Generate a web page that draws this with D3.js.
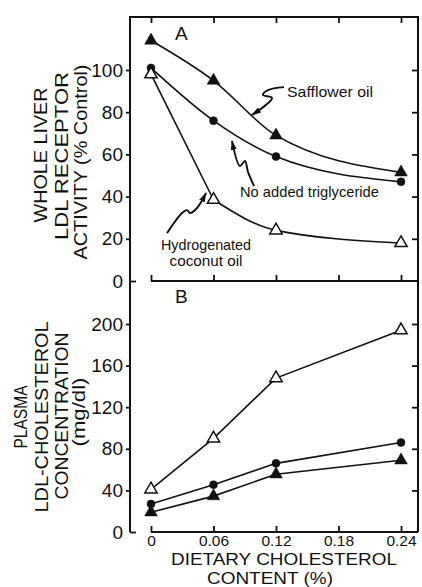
<!DOCTYPE html>
<html>
<head>
<meta charset="utf-8">
<script src="https://cdn.jsdelivr.net/npm/d3@7"></script>
<style>
  body { margin: 0; background: #fff; }
  text { font-family: "Liberation Sans", Arial, sans-serif; fill: #111; }
</style>
</head>
<body>
<div id="chart"></div>
<script>
// dietary cholesterol content (%)
var cholesterol = [0, 0.06, 0.12, 0.24]
var xTicks = [0, 0.06, 0.12, 0.18, 0.24]
var xTickLabels = ['0', '0.06', '0.12', '0.18', '0.24']

// panel A: whole liver LDL receptor activity (% control)
var ticksA = [0, 20, 40, 60, 80, 100]
var receptorSafflower = [114, 95, 69, 51.5]
var receptorNoAdded = [101, 76, 59, 47]
var receptorCoconut = [98, 38.5, 24, 18]

// panel B: plasma LDL-cholesterol (mg/dl)
var ticksB = [0, 40, 80, 120, 160, 200]
var ldlCoconut = [41, 90, 148, 194]
var ldlNoAdded = [27, 45.5, 66, 86]
var ldlSafflower = [19, 34.5, 55.5, 69]

// squiggly arrows of panel A, in data units [x, y], tail first
var arrowSafflower = [[0.1277, 91.9], [0.1123, 90.5], [0.1075, 88.2], [0.1162, 86.7], [0.0970, 78.7]]
var arrowNoAdded = [[0.0989, 45.0], [0.0931, 51.7], [0.0902, 56.9], [0.0854, 54.5], [0.0778, 66.4]]
var arrowCoconut = [[0.0154, 22.7], [0.0298, 32.2], [0.0346, 33.6], [0.0374, 32.2], [0.0442, 34.6], [0.0528, 41.7]]

var W = 422, H = 587
var frame = {left: 130, right: 418, top: 17, mid: 281, bottom: 532}
var ink = '#111'

var svg = d3.select('#chart').append('svg')
  .attr('width', W)
  .attr('height', H)
  .style('background-color', '#fff')

var x = d3.scaleLinear().domain([0, 0.24]).range([151, 401])
var yA = d3.scaleLinear().domain([0, 100]).range([frame.mid, 70])
var yB = d3.scaleLinear().domain([0, 200]).range([frame.bottom, 324])

svg.append('defs').append('marker')
  .attr('id', 'head')
  .attr('viewBox', '0 0 10 6')
  .attr('refX', 9)
  .attr('refY', 3)
  .attr('markerWidth', 10)
  .attr('markerHeight', 6)
  .attr('markerUnits', 'userSpaceOnUse')
  .attr('orient', 'auto')
  .append('path')
  .attr('d', 'M0,0L10,3L0,6Z')
  .attr('fill', ink)

function styleAxis(g, size){
  g.select('.domain').remove()
  g.selectAll('line').attr('stroke', ink).attr('stroke-width', 1.8)
  g.selectAll('text').style('font-size', size + 'px').attr('fill', ink)
}

// frame
svg.append('path')
  .attr('d', 'M' + frame.left + ',' + frame.bottom + 'V' + frame.top + 'H' + frame.right + 'V' + frame.bottom)
  .attr('fill', 'none').attr('stroke', ink).attr('stroke-width', 2)
;[frame.mid, frame.bottom].forEach(function(yy){
  svg.append('line')
    .attr('x1', x(0)).attr('x2', frame.right)
    .attr('y1', yy).attr('y2', yy)
    .attr('stroke', ink).attr('stroke-width', 2)
})

// left axes
;[[yA, ticksA], [yB, ticksB]].forEach(function(p){
  var g = svg.append('g')
    .attr('transform', 'translate(' + frame.left + ',0)')
    .call(d3.axisLeft(p[0]).tickValues(p[1]).tickSize(4).tickPadding(3))
  styleAxis(g, 19)
  g.selectAll('.tick').filter(function(d){ return d === 0 }).select('line').attr('x2', 6)
  // right side, inward ticks
  var r = svg.append('g')
    .attr('transform', 'translate(' + frame.right + ',0)')
    .call(d3.axisLeft(p[0]).tickValues(p[1].filter(function(d){ return d !== 0 })).tickSize(6).tickFormat(''))
  styleAxis(r, 19)
})

// top and middle x ticks
var topAxis = svg.append('g').attr('transform', 'translate(0,' + frame.top + ')')
  .call(d3.axisBottom(x).tickValues(xTicks).tickSize(6).tickFormat(''))
styleAxis(topAxis, 16)
var midAxis = svg.append('g').attr('transform', 'translate(0,' + frame.mid + ')')
  .call(d3.axisTop(x).tickValues(xTicks).tickSize(6).tickFormat(''))
styleAxis(midAxis, 16)
var bottomAxis = svg.append('g').attr('transform', 'translate(0,' + frame.bottom + ')')
  .call(d3.axisBottom(x).tickValues(xTicks).tickSize(-6).tickPadding(3)
    .tickFormat(function(d, i){ return xTickLabels[i] }))
styleAxis(bottomAxis, 15.5)

// series
var filledTri = {d: d3.symbol(d3.symbolTriangle, 70)(), fill: ink, sw: 0.5}
var dot = {d: d3.symbol(d3.symbolCircle, 50)(), fill: ink, sw: 0.5}
var openTri = {d: d3.symbol(d3.symbolTriangle, 66)(), fill: '#fff', sw: 1.5}

// "split" draws the first segment straight, then a smooth curve
var series = [
  {vals: receptorSafflower, y: yA, curve: d3.curveMonotoneX, mark: filledTri},
  {vals: receptorNoAdded, y: yA, curve: d3.curveMonotoneX, mark: dot},
  {vals: receptorCoconut, y: yA, curve: d3.curveMonotoneX, mark: openTri, split: true},
  {vals: ldlCoconut, y: yB, curve: d3.curveLinear, mark: openTri},
  {vals: ldlNoAdded, y: yB, curve: d3.curveLinear, mark: dot},
  {vals: ldlSafflower, y: yB, curve: d3.curveLinear, mark: filledTri}
]

series.forEach(function(s){
  var pts = cholesterol.map(function(c, i){ return [x(c), s.y(s.vals[i])] })
  var parts = s.split ? [[pts.slice(0, 2), d3.curveLinear], [pts.slice(1), s.curve]] : [[pts, s.curve]]
  parts.forEach(function(p){
    svg.append('path')
      .attr('d', d3.line().curve(p[1])(p[0]))
      .attr('fill', 'none').attr('stroke', ink).attr('stroke-width', 1.6)
  })
})
series.forEach(function(s){
  svg.append('g').selectAll('path')
    .data(cholesterol.map(function(c, i){ return [x(c), s.y(s.vals[i])] }))
    .enter().append('path')
    .attr('transform', function(d){ return 'translate(' + d[0] + ',' + d[1] + ')' })
    .attr('d', s.mark.d)
    .attr('fill', s.mark.fill)
    .attr('stroke', ink)
    .attr('stroke-width', s.mark.sw)
})

// squiggly arrows
var arrowLine = d3.line()
  .x(function(d){ return x(d[0]) })
  .y(function(d){ return yA(d[1]) })
  .curve(d3.curveCatmullRom)
;[arrowSafflower, arrowNoAdded, arrowCoconut].forEach(function(a){
  svg.append('path')
    .attr('d', arrowLine(a))
    .attr('fill', 'none').attr('stroke', ink).attr('stroke-width', 1.9)
    .attr('marker-end', 'url(#head)')
})

// labels inside the plot
function label(txt, xv, yv, size, anchor, len){
  var t = svg.append('text')
    .attr('x', x(xv)).attr('y', yv)
    .attr('text-anchor', anchor || 'start')
    .style('font-size', size + 'px')
    .text(txt)
  if(len){ t.attr('textLength', len).attr('lengthAdjust', 'spacingAndGlyphs') }
}
label('Safflower oil', 0.1306, yA(87.2), 15, 'start', 86)
label('No added triglyceride', 0.0854, yA(39.8), 15, 'start', 139)
label('Hydrogenated', 0.0528, yA(14.7), 15, 'middle', 90)
label('coconut oil', 0.0528, yA(7.1), 15, 'middle', 73)
label('A', 0.023, yA(114.2), 19)
label('B', 0.023, yB(220), 19)

// axis titles
function vtitle(txt, bx, cy, len){
  svg.append('text')
    .attr('transform', 'translate(' + bx + ',' + cy + ') rotate(-90)')
    .attr('text-anchor', 'middle')
    .attr('textLength', len).attr('lengthAdjust', 'spacingAndGlyphs')
    .style('font-size', '18.5px')
    .text(txt)
}
vtitle('WHOLE LIVER', 47, 155, 135)
vtitle('LDL RECEPTOR', 68, 156, 168)
vtitle('ACTIVITY (% Control)', 87, 162, 195)
vtitle('PLASMA', 27, 417, 63)
vtitle('LDL-CHOLESTEROL', 48, 417, 191)
vtitle('CONCENTRATION', 68, 416, 167)
vtitle('(mg/dl)', 85, 412, 69)

svg.append('text')
  .attr('x', 284).attr('y', 565)
  .attr('text-anchor', 'middle')
  .attr('textLength', 226).attr('lengthAdjust', 'spacingAndGlyphs')
  .style('font-size', '16.5px')
  .text('DIETARY CHOLESTEROL')
svg.append('text')
  .attr('x', 270).attr('y', 584)
  .attr('text-anchor', 'middle')
  .attr('textLength', 126).attr('lengthAdjust', 'spacingAndGlyphs')
  .style('font-size', '16.5px')
  .text('CONTENT (%)')
</script>
</body>
</html>
